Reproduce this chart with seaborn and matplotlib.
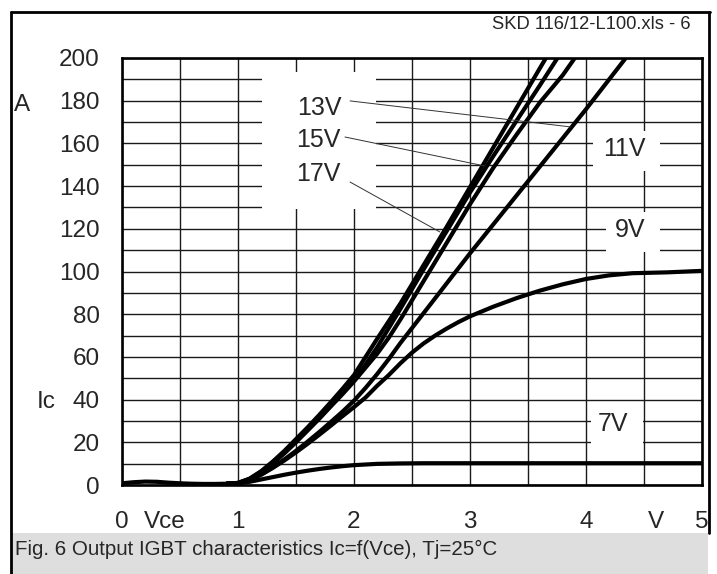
import matplotlib
matplotlib.use("Agg")
import matplotlib.pyplot as plt
from matplotlib.patches import Rectangle
from matplotlib.lines import Line2D
import seaborn as sns

# Ic = f(Vce) for different gate voltages
vce_7v = [0, 0.1, 0.2, 0.3, 0.4, 0.5, 0.6, 0.7, 0.8, 0.9, 1.0, 1.1, 1.2, 1.3, 1.4, 1.5,
          1.6, 1.7, 1.8, 1.9, 2.0, 2.1, 2.2, 2.3, 2.4, 2.6, 3.0, 4.0, 5.0]
ic_7v = [0.8, 1.3, 1.6, 1.5, 1.1, 0.8, 0.6, 0.5, 0.5, 0.6, 0.8, 1.5, 2.6, 3.7, 4.8, 5.8,
         6.7, 7.5, 8.2, 8.8, 9.3, 9.6, 9.9, 10.0, 10.1, 10.2, 10.2, 10.2, 10.2]

vce_9v = [0.9, 1.0, 1.1, 1.2, 1.3, 1.4, 1.5, 1.6, 1.7, 1.8, 1.9, 2.0, 2.1, 2.2, 2.3, 2.4,
          2.5, 2.6, 2.7, 2.8, 2.9, 3.0, 3.2, 3.4, 3.6, 3.8, 4.0, 4.2, 4.4, 4.7, 5.0]
ic_9v = [0.6, 0.8, 2.2, 4.8, 8.0, 11.5, 15.3, 19.3, 23.5, 27.8, 32.2, 36.5, 41, 46.5, 51.5, 57,
         62, 66.3, 70, 73.3, 76.3, 79, 83.5, 87.5, 91, 94, 96.5, 98.2, 99.2, 99.6, 100.3]

vce_11v = [0.9, 1.0, 1.1, 1.2, 1.3, 1.4, 1.5, 1.6, 1.7, 1.8, 1.9, 2.0, 2.1, 2.2, 2.3, 2.4,
           2.6, 2.8, 3.0, 3.2, 3.4, 3.6, 3.8, 4.0, 4.2, 4.35]
ic_11v = [0.6, 0.9, 2.4, 5.0, 8.3, 12, 16, 20.3, 24.8, 29.5, 34.3, 39.5, 45.5, 52, 59, 66.5,
          80.5, 94.5, 108.5, 122, 135.5, 149, 162.5, 176, 190, 200.5]

vce_13v = [0.9, 1.0, 1.1, 1.2, 1.3, 1.4, 1.5, 1.6, 1.7, 1.8, 1.9, 2.0, 2.1, 2.2, 2.3, 2.4,
           2.6, 2.8, 3.0, 3.2, 3.4, 3.6, 3.8, 3.91]
ic_13v = [0.6, 0.9, 2.6, 5.8, 10, 14.8, 20, 25.5, 31, 36.8, 42.5, 48.5, 55, 61.5, 69, 77.5,
          95.5, 113.5, 131.5, 148.5, 164, 179, 192, 200.5]

vce_15v = [0.9, 1.0, 1.1, 1.2, 1.3, 1.4, 1.5, 1.6, 1.7, 1.8, 1.9, 2.0, 2.1, 2.2, 2.4, 2.6,
           2.8, 3.0, 3.2, 3.4, 3.6, 3.76]
ic_15v = [0.6, 0.95, 2.8, 6.2, 10.5, 15.3, 20.5, 26, 31.5, 37.3, 43.3, 49.5, 56.5, 64.5, 82.5, 101,
          119, 137, 154, 170.5, 187, 200.5]

vce_17v = [0.9, 1.0, 1.1, 1.2, 1.3, 1.4, 1.5, 1.6, 1.7, 1.8, 1.9, 2.0, 2.1, 2.2, 2.4, 2.6,
           2.8, 3.0, 3.2, 3.4, 3.6, 3.66]
ic_17v = [0.6, 1.0, 3.0, 6.5, 11, 16, 21.5, 27, 32.8, 38.8, 45, 51.5, 60, 68.5, 85, 103,
          121, 139.5, 158, 176.5, 195, 200.5]

x_ticks = [0, 1, 2, 3, 4, 5]
y_ticks = [0, 20, 40, 60, 80, 100, 120, 140, 160, 180, 200]

sns.set_style("white")
plt.rcParams['font.family'] = ['Liberation Sans', 'DejaVu Sans']

W, H = 717, 574
fig = plt.figure(figsize=(W / 100, H / 100), dpi=100)
ax = fig.add_axes([122 / W, 89 / H, 580 / W, 427 / H])

# curves
for vx, iy in [(vce_7v, ic_7v), (vce_9v, ic_9v), (vce_11v, ic_11v),
               (vce_13v, ic_13v), (vce_15v, ic_15v), (vce_17v, ic_17v)]:
    sns.lineplot(x=vx, y=iy, color='black', lw=3.0, ax=ax, zorder=3,
                 solid_capstyle='butt')

ax.set_xlim(0, 5)
ax.set_ylim(0, 200)
ax.set_xticks(x_ticks)
ax.set_yticks(y_ticks)
ax.set_xticks([0.5 * i for i in range(11)], minor=True)
ax.set_yticks(list(range(0, 201, 10)), minor=True)
ax.set_xticklabels([str(t) for t in x_ticks])
ax.set_yticklabels([str(t) for t in y_ticks])
ax.set_axisbelow(True)
ax.grid(True, which='both', color='#1a1a1a', lw=1.0)
ax.tick_params(which='both', length=0)
ax.tick_params(axis='x', labelsize=17.5, pad=19)
ax.tick_params(axis='y', labelsize=17.5, pad=16)
for s in ax.spines.values():
    s.set_color('black')
    s.set_linewidth(1.9)
ax.set_xlabel('')
ax.set_ylabel('')

# white boxes behind the labels
for (x0, x1, y0, y1) in [(1.207, 2.19, 129.3, 193.4), (4.06, 4.64, 147, 166),
                         (4.17, 4.64, 109, 128), (4.04, 4.49, 15.5, 38)]:
    ax.add_patch(Rectangle((x0, y0), x1 - x0, y1 - y0, facecolor='white',
                           edgecolor='none', zorder=1.5))

# curve labels and leaders
lab_kw = dict(fontsize=18, ha='center', va='center', zorder=5)
ax.text(1.698, 176.5, '13V', **lab_kw)
ax.text(1.69, 161.5, '15V', **lab_kw)
ax.text(1.69, 145.5, '17V', **lab_kw)
ax.text(4.33, 157.5, '11V', **lab_kw)
ax.text(4.38, 119.5, '9V', **lab_kw)
ax.text(4.23, 28.5, '7V', **lab_kw)
for (xa, ya, xb, yb) in [(1.966, 179.9, 3.871, 167.7), (1.922, 163.0, 3.129, 149.4),
                         (1.966, 141.9, 2.741, 118.5)]:
    ax.plot([xa, xb], [ya, yb], color='#333333', lw=0.7, zorder=4)

# axis captions next to the tick labels
ax.text(0.37, -0.086, 'Vce', transform=ax.get_xaxis_transform(), fontsize=17.5,
        ha='center', va='center')
ax.text(4.6, -0.086, 'V', transform=ax.get_xaxis_transform(), fontsize=17.5,
        ha='center', va='center')
ax.text(-0.186, 179, 'A', transform=ax.get_yaxis_transform(), fontsize=17.5,
        ha='left', va='center_baseline')
ax.text(-0.147, 40, 'Ic', transform=ax.get_yaxis_transform(), fontsize=17.5,
        ha='left', va='center_baseline')

# outer frame, caption strip and header
fig.add_artist(Rectangle((11 / W, 0), 697 / W, 41 / H, transform=fig.transFigure,
                         facecolor='#dedede', edgecolor='none'))
frame_kw = dict(color='black', lw=2.0, transform=fig.transFigure)
fig.add_artist(Line2D([11 / W, 11 / W], [0, 1 - 12 / H], **frame_kw))
fig.add_artist(Line2D([11 / W, 710 / W], [1 - 12 / H, 1 - 12 / H], **frame_kw))
fig.add_artist(Line2D([709 / W, 709 / W], [1 - 12 / H, 1 - 533 / H], **frame_kw))
fig.text(691 / W, 1 - 29 / H, 'SKD 116/12-L100.xls - 6', fontsize=13.2,
         ha='right', va='baseline')
fig.text(15 / W, 1 - 555 / H, 'Fig. 6 Output IGBT characteristics Ic=f(Vce), Tj=25°C',
         fontsize=14.8, ha='left', va='baseline')

fig.savefig('out.png', dpi=100)
